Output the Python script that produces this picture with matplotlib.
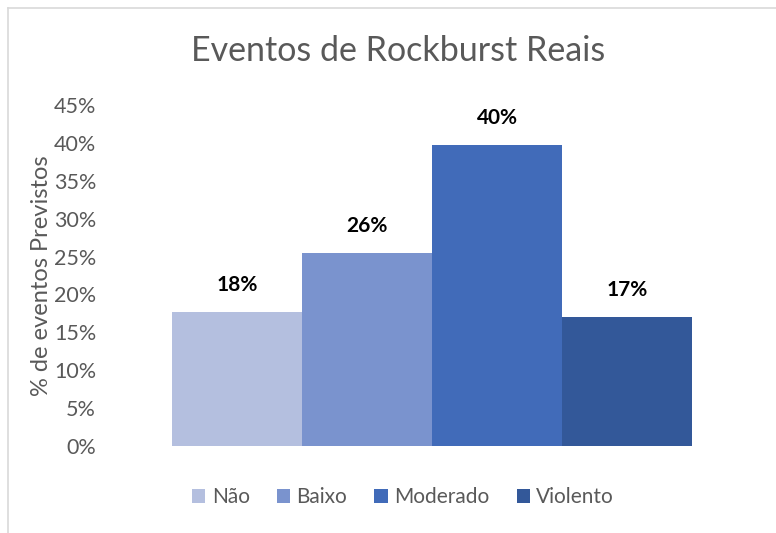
import matplotlib.pyplot as plt
from matplotlib.lines import Line2D
from matplotlib.ticker import PercentFormatter

plt.rcParams['font.family'] = ['Lato', 'DejaVu Sans']

# dados
categorias = ["Não", "Baixo", "Moderado", "Violento"]
valores = [0.177, 0.255, 0.397, 0.170]
rotulos = ["18%", "26%", "40%", "17%"]
cores = ["#B4BFDF", "#7A93CE", "#416BB9", "#335899"]

W, H = 776, 533
fig = plt.figure(figsize=(W / 100, H / 100), dpi=100)

# borda do gráfico (recortada, só esquerda e topo)
fig.add_artist(Line2D([8 / W, 8 / W], [0, 1 - 8 / H], color="#d9d9d9", lw=1.2))
fig.add_artist(Line2D([8 / W, 1], [1 - 8 / H, 1 - 8 / H], color="#d9d9d9", lw=1.2))

# área de plotagem em pixels
left, right, top, bottom = 110, 754, 105, 446
ax = fig.add_axes([left / W, 1 - bottom / H, (right - left) / W, (bottom - top) / H])

largura = 0.2
for i, (nome, v, cor) in enumerate(zip(categorias, valores, cores)):
    x = (i - 1.5) * largura
    ax.bar(x, v, width=largura, color=cor, label=nome)
    ax.text(x, v + 0.0225, rotulos[i], ha="center", va="bottom", fontsize=15,
            fontweight="bold", color="black")

ax.set_xlim(-0.495, 0.495)
ax.set_ylim(0, 0.45)
ax.set_yticks([i * 0.05 for i in range(10)])
ax.yaxis.set_major_formatter(PercentFormatter(1.0, decimals=0))
ax.set_xticks([])
for s in ax.spines.values():
    s.set_visible(False)
ax.tick_params(axis="y", length=0, labelsize=15.5, labelcolor="#595959", pad=10)
ax.set_ylabel("% de eventos Previstos", fontsize=17, color="#595959", labelpad=1)

fig.text(398 / W, 1 - 51 / H, "Eventos de Rockburst Reais", ha="center", va="center",
         fontsize=24.5, color="#595959")

leg = fig.legend(loc="center", bbox_to_anchor=(403 / W, 1 - 497 / H), ncol=4,
                 frameon=False, fontsize=15, handlelength=0.65, handleheight=0.65,
                 handletextpad=0.3, columnspacing=1.3, labelcolor="#595959")

fig.savefig("out.png", dpi=100)
